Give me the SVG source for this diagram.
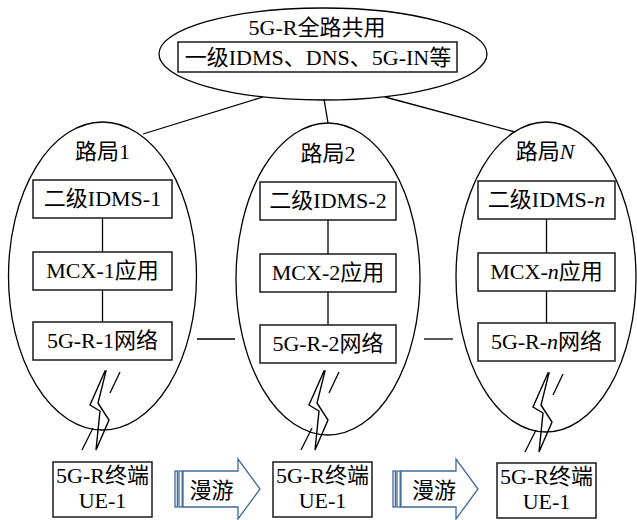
<svg xmlns="http://www.w3.org/2000/svg" xmlns:xlink="http://www.w3.org/1999/xlink" width="637" height="520" viewBox="0 0 637 520">
  <style>
    .ell { fill: none; stroke: #000; stroke-width: 1.3; }
    .ln { fill: none; stroke: #000; stroke-width: 1.3; }
    .box { fill: #fff; stroke: #1a1a1a; stroke-width: 1.5; }
    .t { font-family: "Noto Sans CJK SC", sans-serif; font-size: 22px; text-anchor: middle; fill: #000; }
    .r { font-family: "Liberation Serif", "Times New Roman", serif; }
    .it { font-family: "Liberation Serif", "Times New Roman", serif; font-style: italic; }
    .roam { fill: #fff; stroke: #41689f; stroke-width: 1.3; }
    .bolt { fill: #fff; stroke: #000; stroke-width: 1.4; stroke-linejoin: miter; }
  </style>
  <defs>
    <!-- wireless link symbol: zigzag bolt crossing a broken slanted line -->
    <g id="radio">
      <line class="ln" x1="110" y1="393" x2="120" y2="372"/>
      <line class="ln" x1="82" y1="450" x2="93" y2="428"/>
      <polygon class="bolt" points="105,371 90,405 100,411 96,450 109,420 98,403 106,371"/>
    </g>
    <!-- striped block arrow used for roaming -->
    <g id="roamArrow">
      <rect class="roam" x="0" y="12" width="2.4" height="36"/>
      <rect class="roam" x="4" y="12" width="3.2" height="36"/>
      <polygon class="roam" points="8,12 63,12 63,0 85,30 63,60 63,48 8,48"/>
    </g>
  </defs>

  <!-- connectors -->
  <g id="connectors">
    <line class="ln" x1="263" y1="97" x2="143" y2="134"/>
    <line class="ln" x1="324" y1="99" x2="328" y2="123"/>
    <line class="ln" x1="385" y1="97" x2="515" y2="132"/>
    <line class="ln" x1="197" y1="339" x2="235" y2="339"/>
    <line class="ln" x1="424" y1="339" x2="453" y2="339"/>
    <line class="ln" x1="102.5" y1="218" x2="102.5" y2="252"/>
    <line class="ln" x1="102.5" y1="290" x2="102.5" y2="322"/>
    <line class="ln" x1="328" y1="220" x2="328" y2="254"/>
    <line class="ln" x1="328" y1="292" x2="328" y2="325"/>
    <line class="ln" x1="546.5" y1="219" x2="546.5" y2="253"/>
    <line class="ln" x1="546.5" y1="291" x2="546.5" y2="323"/>
    <use xlink:href="#radio"/>
    <use xlink:href="#radio" transform="translate(219,0)"/>
    <use xlink:href="#radio" transform="translate(443,2)"/>
  </g>

  <!-- network-wide shared core -->
  <g id="core">
    <ellipse class="ell" cx="323" cy="54" rx="164" ry="46"/>
    <text class="t" x="317" y="35"><tspan class="r">5G-R</tspan>全路共用</text>
    <rect class="box" x="178" y="42" width="279" height="30"/>
    <text class="t" x="318" y="65">一级<tspan class="r">IDMS</tspan>、<tspan class="r">DNS</tspan>、<tspan class="r">5G-IN</tspan>等</text>
  </g>

  <!-- railway bureau 1 -->
  <g id="bureau1">
    <ellipse class="ell" cx="102.5" cy="276" rx="94" ry="154"/>
    <text class="t" x="102.5" y="159">路局<tspan class="r">1</tspan></text>
    <rect class="box" x="33" y="180" width="139" height="38"/>
    <text class="t" x="102.5" y="206">二级<tspan class="r">IDMS-1</tspan></text>
    <rect class="box" x="33" y="252" width="139" height="38"/>
    <text class="t" x="102.5" y="278"><tspan class="r">MCX-1</tspan>应用</text>
    <rect class="box" x="33" y="322" width="139" height="38"/>
    <text class="t" x="102.5" y="348"><tspan class="r">5G-R-1</tspan>网络</text>
  </g>

  <!-- railway bureau 2 -->
  <g id="bureau2">
    <ellipse class="ell" cx="328" cy="279" rx="92" ry="156"/>
    <text class="t" x="328" y="161">路局<tspan class="r">2</tspan></text>
    <rect class="box" x="260" y="182" width="136" height="38"/>
    <text class="t" x="328" y="208">二级<tspan class="r">IDMS-2</tspan></text>
    <rect class="box" x="260" y="254" width="136" height="38"/>
    <text class="t" x="328" y="280"><tspan class="r">MCX-2</tspan>应用</text>
    <rect class="box" x="260" y="325" width="136" height="38"/>
    <text class="t" x="328" y="351"><tspan class="r">5G-R-2</tspan>网络</text>
  </g>

  <!-- railway bureau N -->
  <g id="bureauN">
    <ellipse class="ell" cx="546" cy="277" rx="90" ry="155"/>
    <text class="t" x="545" y="159">路局<tspan class="it">N</tspan></text>
    <rect class="box" x="478" y="181" width="137" height="38"/>
    <text class="t" x="546.5" y="207">二级<tspan class="r">IDMS-</tspan><tspan class="it">n</tspan></text>
    <rect class="box" x="478" y="253" width="137" height="38"/>
    <text class="t" x="546.5" y="279"><tspan class="r">MCX-</tspan><tspan class="it">n</tspan>应用</text>
    <rect class="box" x="478" y="323" width="137" height="38"/>
    <text class="t" x="546.5" y="349"><tspan class="r">5G-R-</tspan><tspan class="it">n</tspan>网络</text>
  </g>

  <!-- terminals -->
  <g id="ue1">
    <rect class="box" x="53" y="462" width="99" height="55"/>
    <text class="t" x="102.5" y="483"><tspan class="r">5G-R</tspan>终端</text>
    <text class="t r" x="102.5" y="508">UE-1</text>
  </g>
  <g id="ue2">
    <rect class="box" x="273" y="462" width="99" height="55"/>
    <text class="t" x="322.5" y="483"><tspan class="r">5G-R</tspan>终端</text>
    <text class="t r" x="322.5" y="508">UE-1</text>
  </g>
  <g id="ue3">
    <rect class="box" x="497" y="463" width="99" height="55"/>
    <text class="t" x="546.5" y="484"><tspan class="r">5G-R</tspan>终端</text>
    <text class="t r" x="546.5" y="509">UE-1</text>
  </g>

  <!-- roaming arrows -->
  <g id="roam1">
    <use xlink:href="#roamArrow" transform="translate(175,459)"/>
    <text class="t" x="211.5" y="498">漫游</text>
  </g>
  <g id="roam2">
    <use xlink:href="#roamArrow" transform="translate(393,459)"/>
    <text class="t" x="434" y="498">漫游</text>
  </g>
</svg>
